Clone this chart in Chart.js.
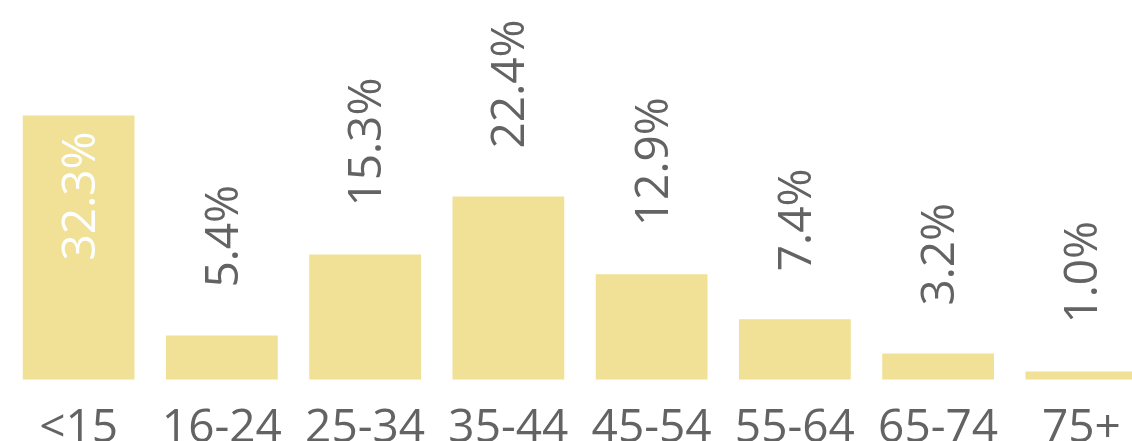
<!DOCTYPE html>
<html>
<head>
<meta charset="utf-8">
<script src="https://cdn.jsdelivr.net/npm/chart.js@4"></script>
<style>
  html, body { margin: 0; padding: 0; background: #fff; overflow: hidden; }
  #wrap { position: relative; width: 1160px; height: 477px; }
</style>
</head>
<body>
<div id="wrap"><canvas id="age-chart"></canvas></div>
<script>
// age groups and share of population (%)
const ageGroups = ['<15', '16-24', '25-34', '35-44', '45-54', '55-64', '65-74', '75+'];
const shares = [32.3, 5.4, 15.3, 22.4, 12.9, 7.4, 3.2, 1.0];
// bars whose label goes inside (white)
const insideLabel = [true, false, false, false, false, false, false, false];

const barColor = '#F0E196';
const textColor = '#636363';
const fontFamily = '"Open Sans", sans-serif';

// draws the rotated value labels
const valueLabels = {
  id: 'valueLabels',
  afterDatasetsDraw(chart) {
    const ctx = chart.ctx;
    const meta = chart.getDatasetMeta(0);
    ctx.save();
    ctx.font = '46px ' + fontFamily;
    ctx.textBaseline = 'alphabetic';
    meta.data.forEach((bar, i) => {
      const txt = shares[i].toFixed(1) + '%';
      ctx.save();
      ctx.translate(bar.x + 16, 0);
      ctx.rotate(-Math.PI / 2);
      if (insideLabel[i]) {
        ctx.fillStyle = '#ffffff';
        ctx.textAlign = 'right';
        ctx.fillText(txt, -(bar.y + 16), 0);
      } else {
        ctx.fillStyle = textColor;
        ctx.textAlign = 'left';
        ctx.fillText(txt, -(bar.y - 48), 0);
      }
      ctx.restore();
    });
    ctx.restore();
  }
};

new Chart(document.getElementById('age-chart').getContext('2d'), {
  type: 'bar',
  data: {
    labels: ageGroups,
    datasets: [{
      data: shares,
      backgroundColor: barColor,
      borderWidth: 0,
      barPercentage: 0.78,
      categoryPercentage: 1.0
    }]
  },
  options: {
    responsive: true,
    maintainAspectRatio: false,
    animation: false,
    layout: { padding: { left: 7, right: 7, top: 0, bottom: 0 } },
    plugins: { legend: { display: false }, tooltip: { enabled: false } },
    scales: {
      x: {
        grid: { display: false, drawTicks: false },
        border: { display: false },
        ticks: { color: textColor, padding: 21, maxRotation: 0, autoSkip: false,
                 font: { family: fontFamily, size: 46 } }
      },
      y: { display: false, min: 0, max: 46.4 }
    }
  },
  plugins: [valueLabels]
});
</script>
</body>
</html>
